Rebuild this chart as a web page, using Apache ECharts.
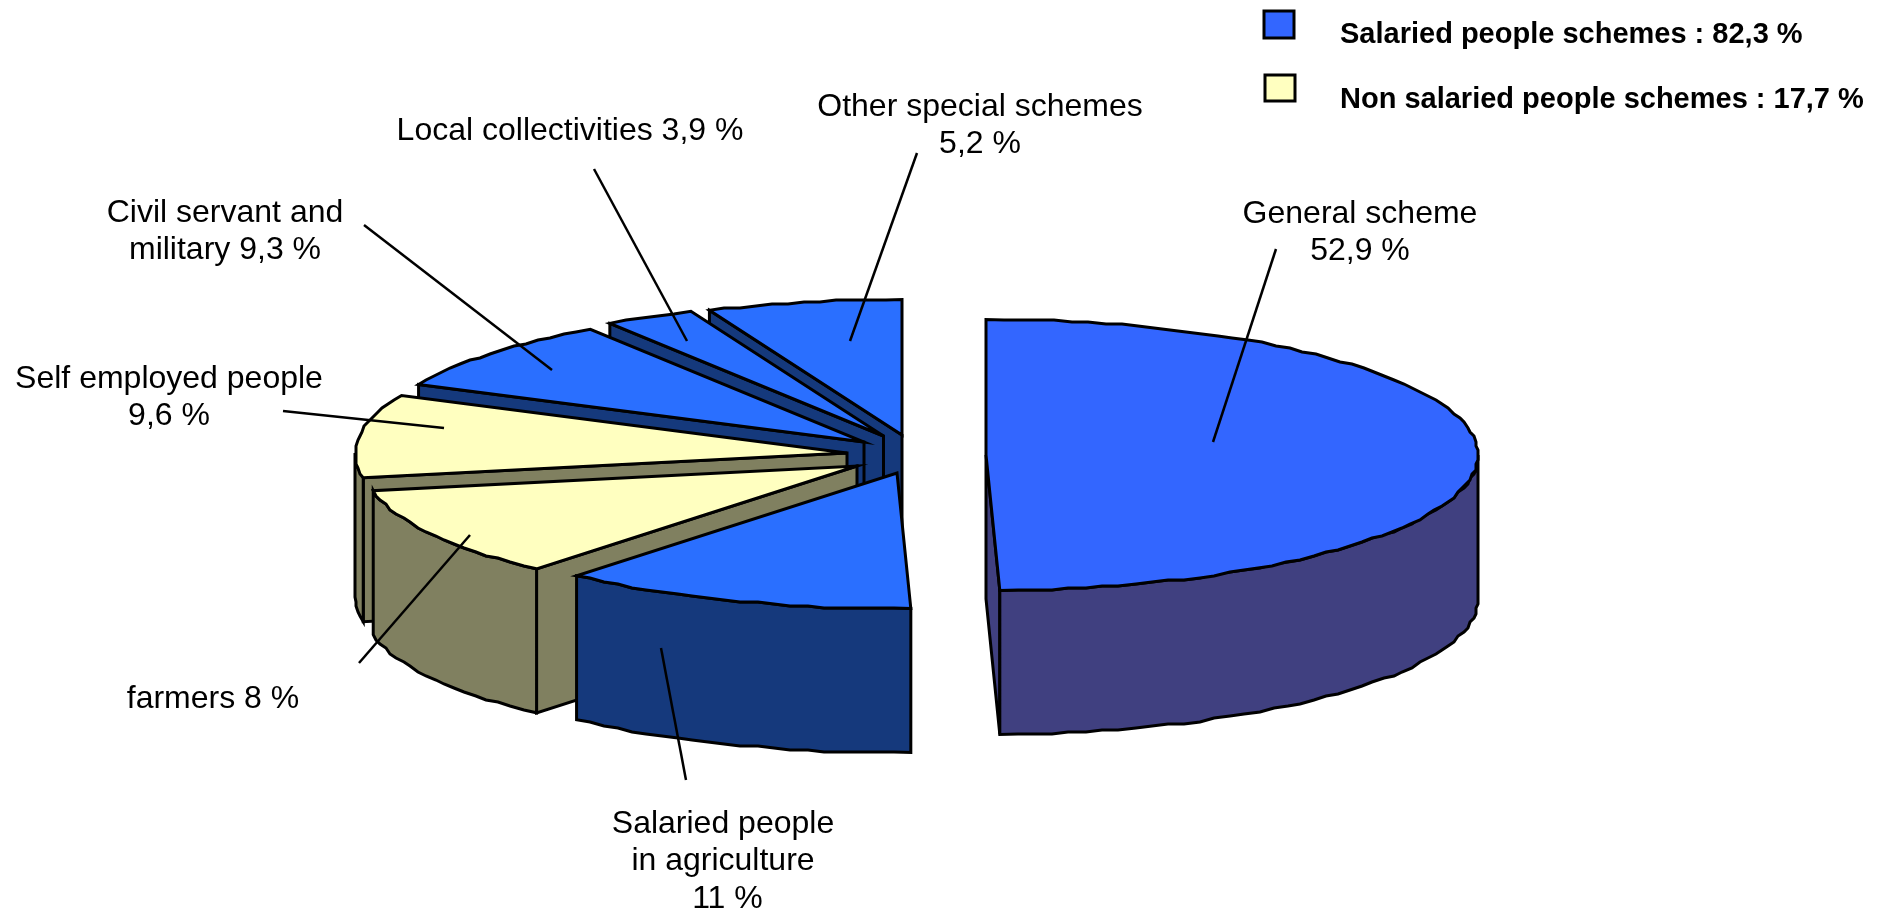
<!DOCTYPE html>
<html>
<head>
<meta charset="utf-8">
<title>Pension schemes</title>
<style>html,body{margin:0;padding:0;background:#fff}#chart{width:1888px;height:912px}</style>
<script src="https://cdn.jsdelivr.net/npm/echarts@6/dist/echarts.min.js"></script>
</head>
<body>
<div id="chart"></div>
<script>
// Share of each scheme, in percent, clockwise from twelve o'clock.
const schemes = ['General scheme', 'Salaried people in agriculture', 'farmers', 'Self employed people', 'Civil servant and military', 'Local collectivities', 'Other special schemes'];
const shares = [52.9, 11, 8, 9.6, 9.3, 3.9, 5.2];
const groupTotals = ['Salaried people schemes : 82,3 %', 'Non salaried people schemes : 17,7 %'];

// Disc geometry: each wedge is pulled out from the common hub by its own offset.
const HUB = [986, 455];
const RX = 492, RY = 135.5, DEPTH = 144;
const explode = [[0, 0], [-89, 18], [-129, 11], [-139, -2], [-122, -13], [-102.5, -19], [-84, -20]];

// Palette per wedge: [top face, side wall].
const BLUE_MAIN = ['#3366ff', '#404080'], BLUE = ['#2a6fff', '#15397c'], CREAM = ['#ffffc0', '#808060'];
const palette = [BLUE_MAIN, BLUE, CREAM, CREAM, BLUE, BLUE, BLUE];

const EDGE = '#000', EDGE_W = 3;
const FONT = '"Liberation Sans", Arial, sans-serif';

// The tilted camera distorts angles around the disc: [centre, spread, shift] in degrees.
const viewWarp = [[207, 33, -15.5], [275, 25, 3], [340, 10, -4]];
function viewAngle(deg) {
  return viewWarp.reduce((a, [c, w, s]) => {
    const t = (deg - c) / w;
    return a + s * Math.exp(-t * t);
  }, deg);
}
const rad = d => d * Math.PI / 180;

// Cumulative angular range of each wedge; the disc closes exactly at twelve o'clock.
let running = 0;
const ranges = shares.map((v, i) => {
  const a0 = running * 3.6;
  running += v;
  return [i === 0 ? 0 : viewAngle(a0), i === shares.length - 1 ? 360 : viewAngle(running * 3.6)];
});

// Polyline outline: the rim is stepped and snapped to a coarse grid like a low resolution plot.
const snap = v => Math.round(v / 2) * 2;
function rimPoint(c, deg, dy) {
  return [c[0] + RX * Math.sin(rad(deg)), c[1] - RY * Math.cos(rad(deg)) + (dy || 0)];
}
function rim(c, a0, a1, dy) {
  const pts = [];
  const n = Math.max(1, Math.round((a1 - a0) / 2));
  for (let i = 0; i <= n; i++) {
    const p = rimPoint(c, a0 + (a1 - a0) * i / n, dy);
    pts.push(i === 0 || i === n ? p : [snap(p[0]), snap(p[1])]);
  }
  return pts;
}
function poly(points, fill, z) {
  return {
    type: 'polygon', z2: z,
    shape: { points },
    style: { fill, stroke: EDGE, lineWidth: EDGE_W, lineJoin: 'miter' }
  };
}

function renderWedge(params, api) {
  const i = api.value(0);
  const [a0, a1] = ranges[i];
  const c = [HUB[0] + explode[i][0], HUB[1] + explode[i][1]];
  const [topFill, wallFill] = palette[i];
  const below = c2 => [c2[0], c2[1] + DEPTH];
  const kids = [];
  // Cut face on the start edge, seen only on the far-left half.
  if (a0 > 180 && a0 < 360) {
    const p = rimPoint(c, a0);
    kids.push(poly([c, p, below(p), below(c)], wallFill, 1));
  }
  // Cut face on the end edge, seen only on the right half.
  if (a1 > 0 && a1 < 180) {
    const p = rimPoint(c, a1);
    kids.push(poly([c, p, below(p), below(c)], wallFill, 1));
  }
  // Outer wall: the part of the rim that faces the viewer.
  const w0 = Math.max(a0, 90), w1 = Math.min(a1, 270);
  if (w1 > w0) {
    const top = rim(c, w0, w1, 0), bottom = rim(c, w0, w1, DEPTH).reverse();
    kids.push(poly(top.concat(bottom), wallFill, 2));
  }
  kids.push(poly([c].concat(rim(c, a0, a1, 0)), topFill, 3));
  return { type: 'group', children: kids };
}

// Labels: text lines centred on an anchor, leader running into the wedge.
const LABEL_SIZE = 32, LINE_GAP = 37.5;
const labels = [
  { lines: ['General scheme', '52,9 %'], at: [1360, 214], leader: [[1276, 249], [1213, 442]] },
  { lines: ['Other special schemes', '5,2 %'], at: [980, 107], leader: [[917, 153], [850, 341]] },
  { lines: ['Local collectivities 3,9 %'], at: [570, 131], leader: [[594, 169], [687, 341]] },
  { lines: ['Civil servant and', 'military 9,3 %'], at: [225, 213], leader: [[364, 225], [552, 370]] },
  { lines: ['Self employed people', '9,6 %'], at: [169, 379], leader: [[283, 411], [444, 428]] },
  { lines: ['farmers 8 %'], at: [213, 699], leader: [[470, 535], [359, 663]] },
  { lines: ['Salaried people', 'in agriculture', ' 11 %'], at: [723, 824], leader: [[661, 648], [686, 780]] }
];

const legendSwatches = [
  { box: [1264, 11, 30, 27], fill: BLUE_MAIN[0], textY: 35 },
  { box: [1265, 75, 30, 26], fill: CREAM[0], textY: 100 }
];

// Descenders of the page heading that runs above the top edge.
const headingTail = [
  { x: 101, y: -15, size: 32 },
  { x: 508, y: -8, size: 18 }
];

const graphics = [];
headingTail.forEach(h => graphics.push({
  type: 'text', z: 20, x: h.x, y: h.y,
  style: { text: '_', font: 'bold ' + h.size + 'px ' + FONT, fill: '#000', align: 'left', verticalAlign: 'middle' }
}));
labels.forEach(l => {
  graphics.push({
    type: 'line', z: 20,
    shape: { x1: l.leader[0][0], y1: l.leader[0][1], x2: l.leader[1][0], y2: l.leader[1][1] },
    style: { stroke: '#000', lineWidth: 2.5 }
  });
  l.lines.forEach((t, k) => graphics.push({
    type: 'text', z: 20, x: l.at[0], y: l.at[1] + k * LINE_GAP,
    style: { text: t, font: LABEL_SIZE + 'px ' + FONT, fill: '#000', align: 'center', verticalAlign: 'middle' }
  }));
});
legendSwatches.forEach((s, k) => {
  graphics.push({
    type: 'rect', z: 20,
    shape: { x: s.box[0], y: s.box[1], width: s.box[2], height: s.box[3] },
    style: { fill: s.fill, stroke: '#000', lineWidth: 3 }
  });
  graphics.push({
    type: 'text', z: 20, x: 1340, y: s.textY,
    style: { text: groupTotals[k], font: 'bold 29px ' + FONT, fill: '#000', align: 'left', verticalAlign: 'middle' }
  });
});

// Far wedges are painted first so the nearer ones overlap them.
const paintOrder = [6, 5, 4, 3, 2, 1, 0];

const chart = echarts.init(document.getElementById('chart'), null, { renderer: 'canvas' });
chart.setOption({
  animation: false,
  backgroundColor: '#fff',
  graphic: { elements: graphics },
  series: [{
    type: 'custom',
    coordinateSystem: 'none',
    renderItem: renderWedge,
    silent: true,
    data: paintOrder.map(i => ({ name: schemes[i], value: [i, shares[i]] }))
  }]
});
</script>
</body>
</html>
